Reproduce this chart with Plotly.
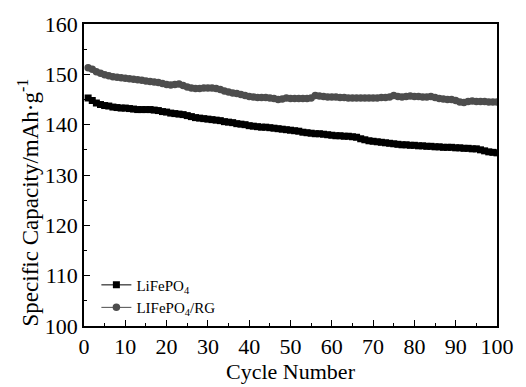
import plotly.graph_objects as go

cycles = list(range(1, 101))
lifepo4 = [145.3,144.8,144.3,144.0,143.8,143.7,143.5,143.4,143.3,143.3,
           143.2,143.1,143.0,143.0,143.0,143.0,142.9,142.8,142.6,142.5,
           142.3,142.2,142.1,142.0,141.8,141.6,141.4,141.3,141.2,141.1,
           141.0,140.9,140.8,140.6,140.5,140.4,140.2,140.1,140.0,139.8,
           139.7,139.6,139.5,139.5,139.4,139.3,139.2,139.1,139.0,138.9,
           138.8,138.7,138.5,138.4,138.3,138.2,138.2,138.1,138.0,137.9,
           137.8,137.8,137.7,137.7,137.6,137.5,137.2,137.0,136.8,136.7,
           136.6,136.5,136.4,136.3,136.2,136.1,136.0,136.0,135.9,135.9,
           135.8,135.8,135.7,135.7,135.6,135.6,135.5,135.5,135.5,135.4,
           135.4,135.3,135.3,135.2,135.2,135.0,134.8,134.6,134.5,134.4]
lifepo4_rg = [151.3,151.0,150.5,150.2,149.9,149.7,149.5,149.4,149.3,149.2,
              149.1,149.0,148.9,148.8,148.7,148.6,148.5,148.4,148.2,148.0,
              147.9,148.0,148.1,147.8,147.5,147.3,147.2,147.2,147.3,147.3,
              147.3,147.2,147.0,146.7,146.5,146.3,146.2,146.0,145.8,145.6,
              145.5,145.4,145.4,145.4,145.3,145.2,145.0,145.1,145.3,145.2,
              145.2,145.2,145.2,145.2,145.3,145.8,145.7,145.6,145.5,145.5,
              145.5,145.4,145.4,145.3,145.3,145.3,145.3,145.3,145.3,145.3,
              145.3,145.4,145.4,145.5,145.8,145.6,145.5,145.6,145.7,145.6,
              145.6,145.5,145.5,145.6,145.4,145.2,145.1,145.0,145.0,144.8,
              144.5,144.4,144.6,144.7,144.6,144.6,144.6,144.5,144.5,144.5]

x_title = "Cycle Number"
y_title = "Specific Capacity/mAh·g<sup>-1</sup>"

font_family = "Liberation Serif"

fig = go.Figure()
fig.add_trace(go.Scatter(
    x=cycles, y=lifepo4, mode="lines+markers", name="LiFePO<sub>4</sub>",
    line=dict(color="black", width=1),
    marker=dict(symbol="square", size=7, color="black"),
))
fig.add_trace(go.Scatter(
    x=cycles, y=lifepo4_rg, mode="lines+markers", name="LIFePO<sub>4</sub>/RG",
    line=dict(color="#4d4d4d", width=1),
    marker=dict(symbol="circle", size=7.5, color="#4d4d4d"),
))

axis_common = dict(
    showline=True, linecolor="black", linewidth=1.5, mirror=True,
    ticks="inside", ticklen=6, tickwidth=1.2, tickcolor="black",
    showgrid=False, zeroline=False,
    tickfont=dict(family=font_family, size=22, color="black"),
)

fig.update_xaxes(range=[0, 100], dtick=10,
                 minor=dict(dtick=5, ticks="inside", ticklen=3, tickcolor="black", tickwidth=1),
                 title=dict(text=x_title, font=dict(family=font_family, size=22, color="black"), standoff=0),
                 **axis_common)
fig.update_yaxes(range=[100, 160], dtick=10,
                 minor=dict(dtick=5, ticks="inside", ticklen=3, tickcolor="black", tickwidth=1),
                 **axis_common)

fig.add_annotation(
    text=y_title, textangle=-90, xref="paper", yref="paper",
    x=-0.135, y=0.41, xanchor="center", yanchor="middle", showarrow=False,
    font=dict(family=font_family, size=23, color="black"),
)

fig.update_layout(
    width=526, height=387,
    margin=dict(l=84, r=19, t=21, b=52),
    plot_bgcolor="white", paper_bgcolor="white",
    legend=dict(x=0.03, y=0.19, xanchor="left", yanchor="top",
                font=dict(family=font_family, size=15, color="black"),
                bgcolor="rgba(0,0,0,0)", tracegroupgap=0, itemwidth=30),
    showlegend=True,
)

fig.write_html("out.html")
